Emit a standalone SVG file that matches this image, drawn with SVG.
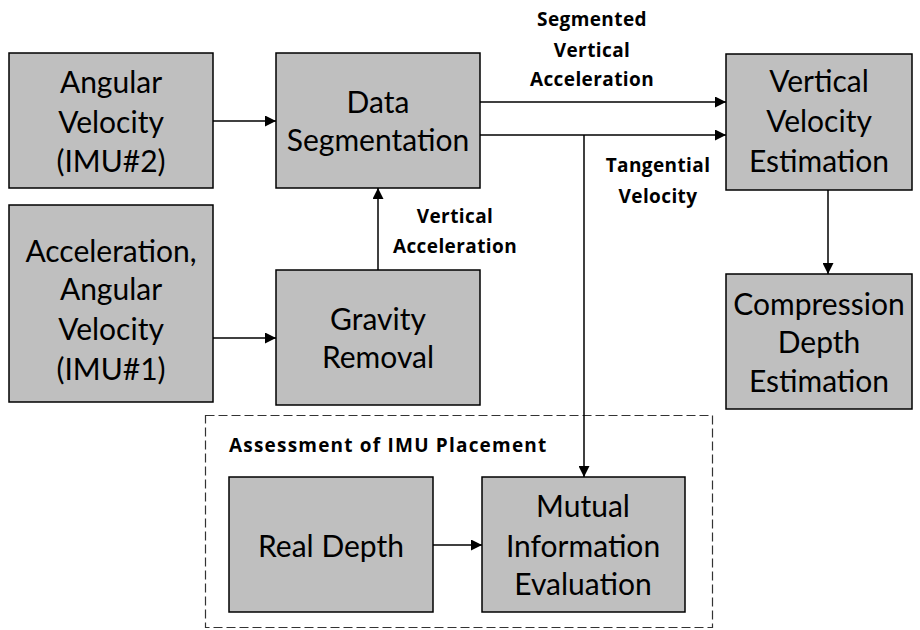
<svg xmlns="http://www.w3.org/2000/svg" width="920" height="630" viewBox="0 0 920 630">
<defs>
<style>
.box{fill:#bfbfbf;stroke:#000;stroke-width:1.5}
.t{font-family:Lato,"Open Sans",sans-serif;font-size:30px;fill:#000;text-anchor:middle}
.l{font-family:"Open Sans","Noto Sans",sans-serif;font-size:19px;font-weight:bold;letter-spacing:0.4px;fill:#000;text-anchor:middle}
.c{fill:none;stroke:#000;stroke-width:1.5}
</style>
<marker id="ah" viewBox="0 0 10 10" refX="10" refY="5" markerWidth="11" markerHeight="11" markerUnits="userSpaceOnUse" orient="auto">
<path d="M0,0 L10,5 L0,10 z" fill="#000"/>
</marker>
</defs>
<rect width="920" height="630" fill="#fff"/>
<g id="group-assessment">
<rect x="205.5" y="415.5" width="507" height="212" fill="none" stroke="#333" stroke-width="1.2" stroke-dasharray="9,4"/>
<text x="229" y="452" class="l" style="text-anchor:start;letter-spacing:1.2px">Assessment of IMU Placement</text>
</g>
<g id="n-angvel2">
<rect class="box" x="9" y="53" width="204" height="135"/>
<text class="t" x="111" y="93">Angular</text>
<text class="t" x="111" y="133">Velocity</text>
<text class="t" x="111" y="172">(IMU#2)</text>
</g>
<g id="n-dataseg">
<rect class="box" x="276" y="53" width="204" height="135"/>
<text class="t" x="378" y="113">Data</text>
<text class="t" x="378" y="151">Segmentation</text>
</g>
<g id="n-accel1">
<rect class="box" x="9" y="205" width="204" height="197"/>
<text class="t" x="111" y="262">Acceleration,</text>
<text class="t" x="111" y="300">Angular</text>
<text class="t" x="111" y="340">Velocity</text>
<text class="t" x="111" y="380">(IMU#1)</text>
</g>
<g id="n-gravity">
<rect class="box" x="276" y="270" width="204" height="135"/>
<text class="t" x="378" y="330">Gravity</text>
<text class="t" x="378" y="368">Removal</text>
</g>
<g id="n-vvel">
<rect class="box" x="726" y="54" width="186" height="136"/>
<text class="t" x="819" y="92">Vertical</text>
<text class="t" x="819" y="132">Velocity</text>
<text class="t" x="819" y="172">Estimation</text>
</g>
<g id="n-comp">
<rect class="box" x="726" y="274" width="186" height="135"/>
<text class="t" x="819" y="315">Compression</text>
<text class="t" x="819" y="353">Depth</text>
<text class="t" x="819" y="392">Estimation</text>
</g>
<g id="n-real">
<rect class="box" x="229" y="477" width="204" height="135"/>
<text class="t" x="331" y="557">Real Depth</text>
</g>
<g id="n-mutual">
<rect class="box" x="482" y="477" width="203" height="135"/>
<text class="t" x="583" y="517">Mutual</text>
<text class="t" x="583" y="557">Information</text>
<text class="t" x="583" y="595">Evaluation</text>
</g>
<g id="connectors">
<line class="c" x1="213" y1="121" x2="276" y2="121" marker-end="url(#ah)"/>
<line class="c" x1="213" y1="338" x2="276" y2="338" marker-end="url(#ah)"/>
<line class="c" x1="378" y1="270" x2="378" y2="188" marker-end="url(#ah)"/>
<line class="c" x1="480" y1="102" x2="726" y2="102" marker-end="url(#ah)"/>
<line class="c" x1="480" y1="135" x2="726" y2="135" marker-end="url(#ah)"/>
<line class="c" x1="584" y1="135" x2="584" y2="477" marker-end="url(#ah)"/>
<line class="c" x1="828" y1="190" x2="828" y2="274" marker-end="url(#ah)"/>
<line class="c" x1="433" y1="545" x2="482" y2="545" marker-end="url(#ah)"/>
<text class="l" x="592" y="26">Segmented</text>
<text class="l" x="592" y="57">Vertical</text>
<text class="l" x="592" y="86">Acceleration</text>
<text class="l" x="658" y="172">Tangential</text>
<text class="l" x="658" y="203">Velocity</text>
<text class="l" x="455" y="223">Vertical</text>
<text class="l" x="455" y="253">Acceleration</text>
</g>
</svg>
